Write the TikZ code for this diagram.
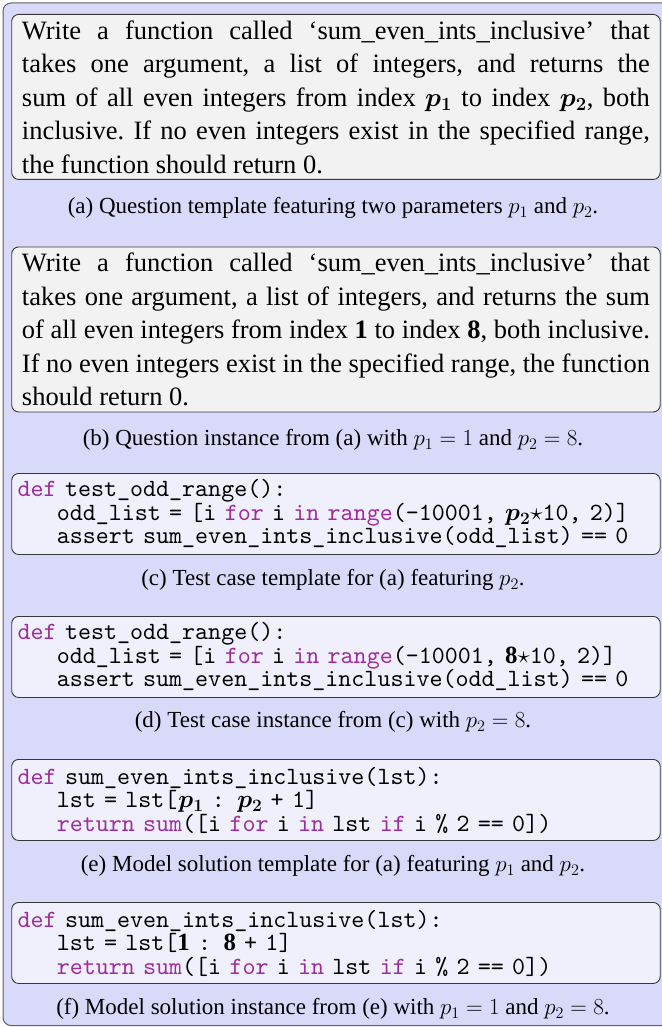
\RequirePackage{fix-cm}
\documentclass[tikz,border=0pt]{standalone}
\usepackage{amsmath}
\usepackage[no-math]{fontspec}
\setmainfont{Liberation Serif}
\setmonofont{lmmono10-regular.otf}
\usepackage{xcolor}

\definecolor{outerfill}{RGB}{217,217,250}
\definecolor{outerline}{RGB}{95,95,95}
\definecolor{txtfill}{RGB}{242,242,242}
\definecolor{codefill}{RGB}{240,240,252}
\definecolor{boxline}{RGB}{55,55,55}
\definecolor{kwcol}{RGB}{158,44,155}

\newcommand{\kwd}[1]{\textcolor{kwcol}{#1}}
\newcommand{\mainsz}{\fontsize{26.5}{33.5}\selectfont\frenchspacing}
\newcommand{\capsz}{\fontsize{23}{27}\selectfont}
\newcommand{\codesz}{\fontsize{24.8}{23.5}\selectfont\ttfamily}
\newcommand{\ind}{\hspace*{1.575em}}

\tikzset{
  framebox/.style={draw=outerline, fill=outerfill, line width=1pt, rounded corners=8pt,
    anchor=north west, inner sep=0pt, minimum width=700pt, minimum height=1022.5pt},
  txtbox/.style={draw=boxline, fill=txtfill, line width=0.9pt, rounded corners=7pt,
    anchor=north west, text width=628pt, inner xsep=10.25pt, inner ysep=0pt,
    align=justify, font=\mainsz, minimum height=165pt},
  codebox/.style={draw=boxline, fill=codefill, line width=0.9pt, rounded corners=7pt,
    anchor=north west, text width=636.5pt, inner xsep=6pt, inner ysep=0pt,
    align=left, font=\codesz, minimum height=81pt},
  capnode/.style={font=\capsz, inner sep=0pt}
}

\begin{document}
\begin{tikzpicture}[x=1pt,y=-1pt]
\useasboundingbox (0,0) rectangle (661,1027);
\node[framebox] (frame) at (2.5,2.5) {};

\node[txtbox] (qa) at (11.25,14) {\hyphenpenalty=10000
Write a function called `sum\_even\_ints\_inclusive' that\linebreak
takes one argument, a list of integers, and returns the\linebreak
sum of all even integers from index $\boldsymbol{p_1}$ to index $\boldsymbol{p_2}$, both\linebreak
inclusive. If no even integers exist in the specified range,\linebreak
the function should return 0.};
\node[capnode] (ca) at (333,208) {(a) Question template featuring two parameters $p_1$ and $p_2$.};

\node[txtbox] (qb) at (11.25,246.5) {\hyphenpenalty=10000
Write a function called `sum\_even\_ints\_inclusive' that\linebreak
takes one argument, a list of integers, and returns the sum\linebreak
of all even integers from index \textbf{1} to index \textbf{8}, both inclusive.\linebreak
If no even integers exist in the specified range, the function\linebreak
should return 0.};
\node[capnode] (cb) at (333,440) {(b) Question instance from (a) with $p_1=1$ and $p_2=8$.};

\node[codebox] (tc) at (11.25,473) {\kwd{def} test\_odd\_range():\\
\ind odd\_list = [i \kwd{for} i \kwd{in} \kwd{range}(-10001, $\boldsymbol{p_2}{\star}$10, 2)]\\
\ind assert sum\_even\_ints\_inclusive(odd\_list) == 0};
\node[capnode] (cc) at (333,580) {(c) Test case template for (a) featuring $p_2$.};

\node[codebox] (td) at (11.25,616) {\kwd{def} test\_odd\_range():\\
\ind odd\_list = [i \kwd{for} i \kwd{in} \kwd{range}(-10001, {\rmfamily\textbf{8}}${\star}$10, 2)]\\
\ind assert sum\_even\_ints\_inclusive(odd\_list) == 0};
\node[capnode] (cd) at (333,722) {(d) Test case instance from (c) with $p_2=8$.};

\node[codebox] (se) at (11.25,759) {\kwd{def} sum\_even\_ints\_inclusive(lst):\\
\ind lst = lst[\kern1pt$\boldsymbol{p_1}$ : $\boldsymbol{p_2}$ + 1]\\
\ind \kwd{return} \kwd{sum}([i \kwd{for} i \kwd{in} lst \kwd{if} i \% 2 == 0])};
\node[capnode] (ce) at (333,866) {(e) Model solution template for (a) featuring $p_1$ and $p_2$.};

\node[codebox] (sf) at (11.25,902) {\kwd{def} sum\_even\_ints\_inclusive(lst):\\
\ind lst = lst[{\rmfamily\textbf{1}} : {\rmfamily\textbf{8}} + 1]\\
\ind \kwd{return} \kwd{sum}([i \kwd{for} i \kwd{in} lst \kwd{if} i \% 2 == 0])};
\node[capnode] (cf) at (333,1009) {(f) Model solution instance from (e) with $p_1=1$ and $p_2=8$.};
\end{tikzpicture}
\end{document}
